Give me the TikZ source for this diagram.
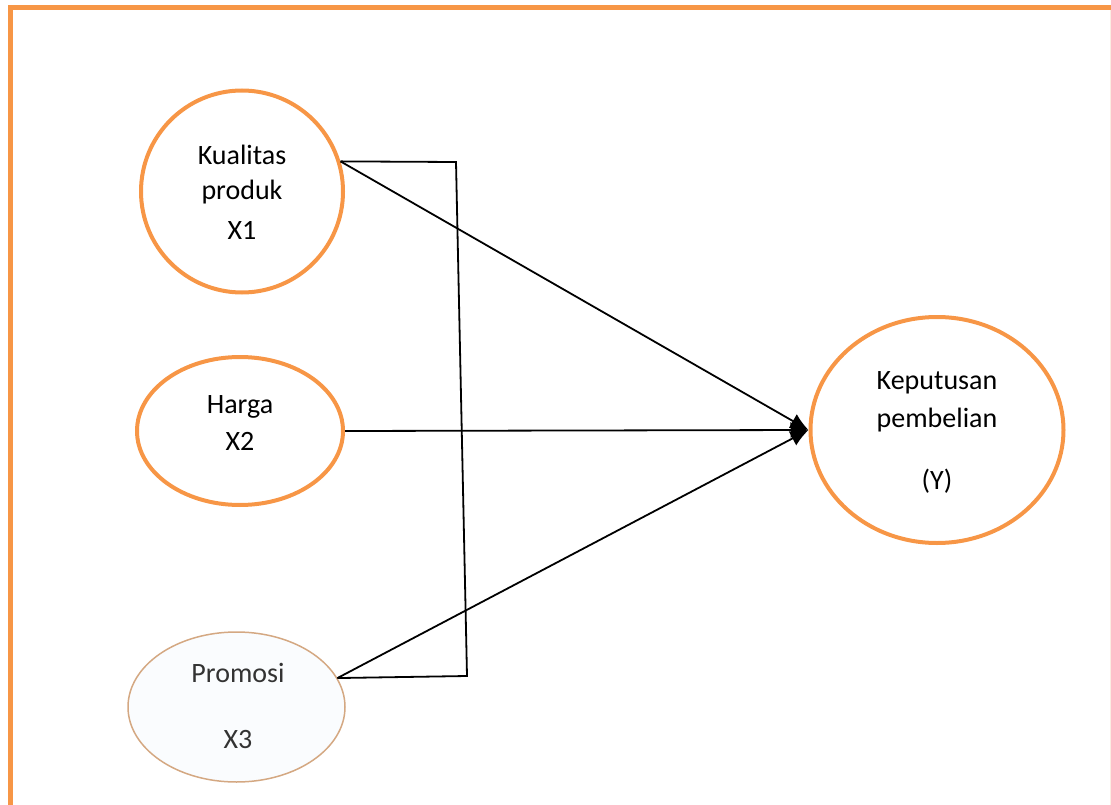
\documentclass[tikz,border=0pt]{standalone}
\usepackage{fontspec}
\setmainfont{Carlito}
\usetikzlibrary{shapes.geometric,arrows.meta}
\definecolor{accent}{HTML}{F79646}
\definecolor{faintor}{HTML}{FBEDE2}
\definecolor{xthreefill}{HTML}{FAFCFE}
\definecolor{xthreeline}{HTML}{D4A882}
\tikzset{
  frame/.style={accent, line width=5pt},
  varnode/.style={ellipse, draw=accent, line width=4pt, inner sep=0pt},
  fadednode/.style={ellipse, draw=xthreeline, fill=xthreefill, line width=1.5pt, inner sep=0pt},
  lbl/.style={inner sep=0pt, font=\fontsize{28}{33}\selectfont},
  conn/.style={black, line width=1.8pt},
  arr/.style={conn, -{Latex[length=18pt,width=16pt]}}
}
\begin{document}
\begin{tikzpicture}[x=1pt,y=-1pt]
\useasboundingbox (0,0) rectangle (1111,805);
% frame
\draw[frame] (10.5,805) -- (10.5,8) -- (1111,8);
\draw[faintor, line width=1pt] (1110,10) -- (1110,805);
% variable nodes
\node[varnode, minimum width=202pt, minimum height=202pt] (x1) at (242,191.5) {};
\node[varnode, minimum width=206pt, minimum height=148pt] (x2) at (240,431) {};
\node[fadednode, minimum width=217pt, minimum height=150pt] (x3) at (236.5,707) {};
\node[varnode, minimum width=253pt, minimum height=226pt] (y) at (937,430) {};
% labels
\node[lbl] (t1a) at (242,155) {Kualitas};
\node[lbl] (t1b) at (242,192) {produk};
\node[lbl] (t1c) at (242,230) {X1};
\node[lbl] (t2a) at (240,407) {Harga};
\node[lbl] (t2b) at (240,441) {X2};
\node[lbl, text=black!80] (t3a) at (238,673) {Promosi};
\node[lbl, text=black!80] (t3b) at (238,740) {X3};
\node[lbl] (tya) at (937,383) {Keputusan};
\node[lbl] (tyb) at (937,420) {pembelian};
\node[lbl] (tyc) at (937,481) {(Y)};
% connectors
\coordinate (b1) at (456,162);
\coordinate (b2) at (467,676);
\draw[conn] (x1.17) -- (b1) -- (b2) -- (x3.16);
\draw[arr] (x1.17) -- (y.west);
\draw[arr] (x3.16) -- (y.west);
\draw[arr] (x2.east) -- (y.west);
\end{tikzpicture}
\end{document}
